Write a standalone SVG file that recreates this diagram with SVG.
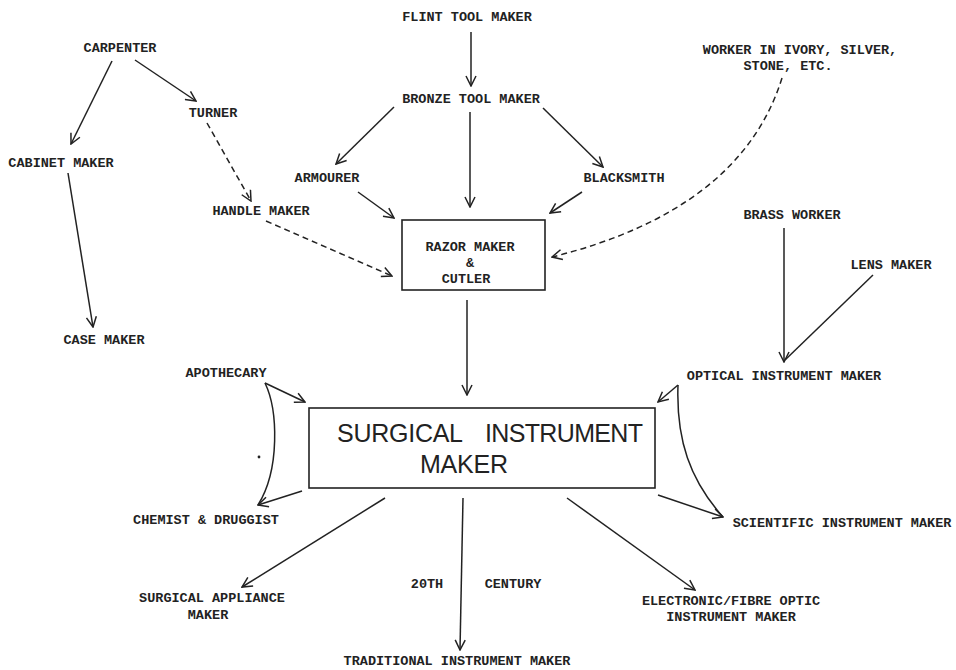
<svg xmlns="http://www.w3.org/2000/svg" width="956" height="670" viewBox="0 0 956 670">
<defs>
<style>
.t{font-family:"Liberation Mono","Courier New",monospace;font-size:13.5px;font-weight:bold;fill:#222;text-anchor:middle}
.big{font-family:"Liberation Sans",Arial,sans-serif;font-size:25px;fill:#222}
.ln{fill:none;stroke:#222;stroke-width:1.5}
.a{marker-end:url(#ah)}
.d{stroke-dasharray:6 4}
.box{fill:#fff;stroke:#222;stroke-width:1.6}
</style>
<marker id="ah" viewBox="0 0 12 12" refX="11" refY="6" markerWidth="12" markerHeight="12" orient="auto" markerUnits="userSpaceOnUse">
<path d="M1,1 L11,6 L1,11" fill="none" stroke="#222" stroke-width="1.5"/>
</marker>
</defs>
<rect width="956" height="670" fill="#fff"/>

<g id="connectors">
<line class="ln a" x1="112" y1="61" x2="71" y2="144"/>
<line class="ln a" x1="135" y1="60" x2="196" y2="101"/>
<line class="ln a d" x1="207" y1="123" x2="251" y2="201"/>
<line class="ln a" x1="68" y1="173" x2="93" y2="327"/>
<line class="ln a d" x1="266" y1="221" x2="392" y2="276"/>
<line class="ln a" x1="471" y1="32" x2="471" y2="86"/>
<line class="ln a" x1="394" y1="107" x2="336" y2="164"/>
<line class="ln a" x1="470" y1="112" x2="470" y2="207"/>
<line class="ln a" x1="543" y1="108" x2="603" y2="167"/>
<line class="ln a" x1="358" y1="192" x2="394" y2="218"/>
<line class="ln a" x1="582" y1="192" x2="550" y2="213"/>
<path class="ln a d" d="M782,78 Q741,210 552,257"/>
<line class="ln a" x1="784" y1="228" x2="784" y2="362"/>
<line class="ln" x1="873" y1="275" x2="785" y2="360"/>
<line class="ln a" x1="467" y1="300" x2="467" y2="395"/>
<line class="ln a" x1="265" y1="383" x2="305" y2="402"/>
<path class="ln" d="M265,383 C278,410 280,470 258,505"/>
<line class="ln a" x1="302" y1="491" x2="258" y2="505"/>
<circle cx="259" cy="457" r="1.4" fill="#222"/>
<line class="ln a" x1="678" y1="385" x2="658" y2="402"/>
<path class="ln" d="M678,385 C676,440 690,480 723,517"/>
<line class="ln a" x1="658" y1="495" x2="723" y2="517"/>
<line class="ln a" x1="385" y1="498" x2="242" y2="587"/>
<line class="ln a" x1="463" y1="498" x2="460" y2="650"/>
<line class="ln a" x1="567" y1="498" x2="695" y2="590"/>
</g>

<g id="carpenter"><text class="t" x="120" y="52">CARPENTER</text></g>
<g id="turner"><text class="t" x="213" y="117">TURNER</text></g>
<g id="cabinet-maker"><text class="t" x="61" y="167">CABINET MAKER</text></g>
<g id="handle-maker"><text class="t" x="261" y="215">HANDLE MAKER</text></g>
<g id="case-maker"><text class="t" x="104" y="344">CASE MAKER</text></g>
<g id="flint-tool-maker"><text class="t" x="467" y="21">FLINT TOOL MAKER</text></g>
<g id="bronze-tool-maker"><text class="t" x="471" y="103">BRONZE TOOL MAKER</text></g>
<g id="armourer"><text class="t" x="327" y="182">ARMOURER</text></g>
<g id="blacksmith"><text class="t" x="624" y="182">BLACKSMITH</text></g>
<g id="worker-ivory">
<text class="t" x="800" y="54">WORKER IN IVORY, SILVER,</text>
<text class="t" x="788" y="70">STONE, ETC.</text>
</g>
<g id="razor-maker">
<rect class="box" x="402" y="220" width="143" height="70"/>
<text class="t" x="470" y="251">RAZOR MAKER</text>
<text class="t" x="470" y="267">&amp;</text>
<text class="t" x="466" y="283">CUTLER</text>
</g>
<g id="brass-worker"><text class="t" x="792" y="219">BRASS WORKER</text></g>
<g id="lens-maker"><text class="t" x="891" y="269">LENS MAKER</text></g>
<g id="optical-instrument-maker"><text class="t" x="784" y="380">OPTICAL INSTRUMENT MAKER</text></g>
<g id="apothecary"><text class="t" x="226" y="377">APOTHECARY</text></g>
<g id="surgical-instrument-maker">
<rect class="box" x="309" y="408" width="346" height="80" stroke-width="2"/>
<text class="big" x="337" y="442" textLength="126" lengthAdjust="spacing">SURGICAL</text>
<text class="big" x="485" y="442" textLength="158" lengthAdjust="spacing">INSTRUMENT</text>
<text class="big" x="420" y="473" textLength="88" lengthAdjust="spacing">MAKER</text>
</g>
<g id="chemist-druggist"><text class="t" x="206" y="524">CHEMIST &amp; DRUGGIST</text></g>
<g id="scientific-instrument-maker"><text class="t" x="842" y="527">SCIENTIFIC INSTRUMENT MAKER</text></g>
<g id="surgical-appliance-maker">
<text class="t" x="212" y="602">SURGICAL APPLIANCE</text>
<text class="t" x="208" y="619">MAKER</text>
</g>
<g id="century-label">
<text class="t" x="427" y="588">20TH</text>
<text class="t" x="513" y="588">CENTURY</text>
</g>
<g id="traditional-instrument-maker"><text class="t" x="457" y="665">TRADITIONAL INSTRUMENT MAKER</text></g>
<g id="electronic-instrument-maker">
<text class="t" x="731" y="605">ELECTRONIC/FIBRE OPTIC</text>
<text class="t" x="731" y="621">INSTRUMENT MAKER</text>
</g>
</svg>
